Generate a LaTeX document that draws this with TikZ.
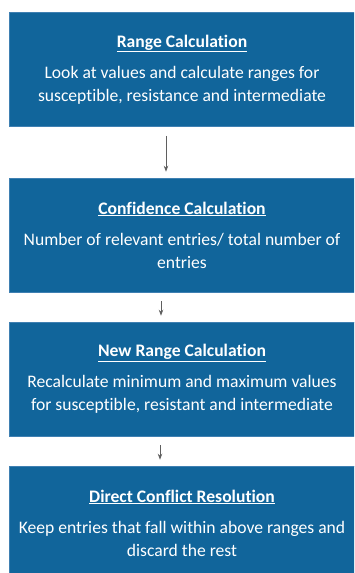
\documentclass[tikz,border=0pt]{standalone}
\usepackage{fontspec}
\setmainfont{Carlito}[Ligatures=NoCommon]
\usepackage{xcolor}
\usepackage{tikz}
\usetikzlibrary{
arrows.meta,
positioning
}
\definecolor{flowblue}{HTML}{11659B}
\definecolor{flowedge}{HTML}{3F80B2}
\definecolor{flowgray}{HTML}{5F5F5F}

\tikzset{
  stagebox/.style={draw=flowedge, line width=0.6pt, fill=flowblue,
    text=white, minimum width=346pt, minimum height=114pt,
    align=center, font=\fontsize{17.6}{23}\selectfont, inner sep=0pt},
  flowarrow/.style={->, flowgray, line width=0.8pt,
    shorten <=9pt, shorten >=6pt}
}
\newcommand{\stagetitle}[1]{{\bfseries\underline{#1}}\\[8pt]}

\begin{document}
\begin{tikzpicture}[x=1pt, y=-1pt, >={Stealth[length=6pt, width=4.5pt]}]

\useasboundingbox (0,0) rectangle (354,573);
\clip (0,0) rectangle (354,573);

%% Stages
\node[stagebox] (range) at (182,69.5)
  {\stagetitle{Range Calculation}
   Look at values and calculate ranges for\\
   susceptible, resistance and intermediate};
\node[stagebox] (conf) at (182,235)
  {\stagetitle{Confidence Calculation}
   Number of relevant entries/ total number of\\
   entries};
\node[stagebox] (newrange) at (182,379)
  {\stagetitle{New Range Calculation}
   Recalculate minimum and maximum values\\
   for susceptible, resistant and intermediate};
\node[stagebox] (resolve) at (182,523)
  {\stagetitle{Direct Conflict Resolution}
   Keep entries that fall within above ranges and\\
   discard the rest};

%% Connectors
\draw[flowarrow] ([xshift=-16pt]range.south) -- ([xshift=-16pt]conf.north);
\draw[flowarrow] ([xshift=-21pt]conf.south) -- ([xshift=-21pt]newrange.north);
\draw[flowarrow] ([xshift=-22pt]newrange.south) -- ([xshift=-22pt]resolve.north);

\end{tikzpicture}
\end{document}
